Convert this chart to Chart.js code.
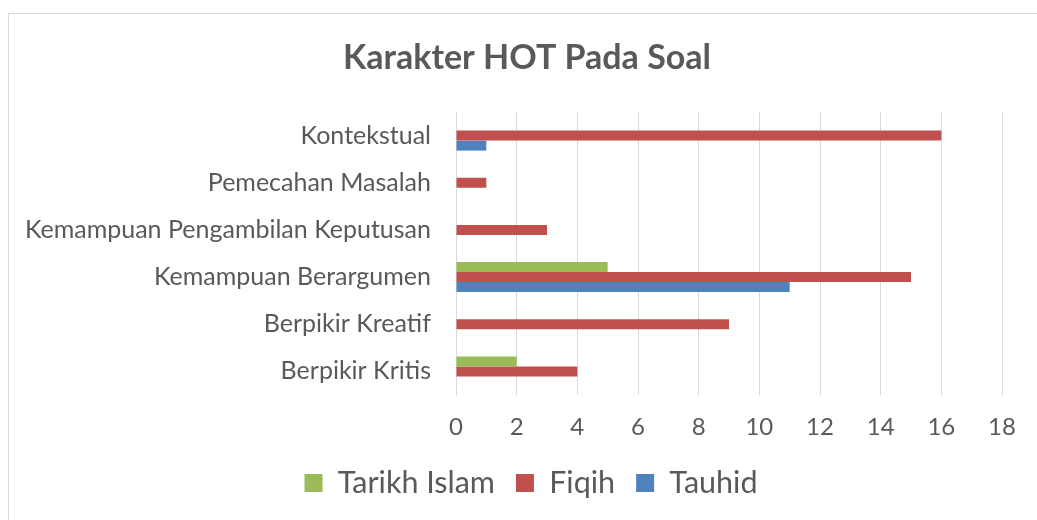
<!DOCTYPE html>
<html>
<head>
<meta charset="utf-8">
<script src="https://cdn.jsdelivr.net/npm/chart.js@4"></script>
<style>
  html, body { margin: 0; padding: 0; background: #fff; overflow: hidden; }
</style>
</head>
<body>
<canvas id="c" width="1037" height="520"></canvas>
<script>
const categories = ["Kontekstual", "Pemecahan Masalah", "Kemampuan Pengambilan Keputusan", "Kemampuan Berargumen", "Berpikir Kreatif", "Berpikir Kritis"];
const tarikhIslam = [0, 0, 0, 5, 0, 2];
const fiqih = [16, 1, 3, 15, 9, 4];
const tauhid = [1, 0, 0, 11, 0, 0];
const seriesNames = ["Tarikh Islam", "Fiqih", "Tauhid"];
const chartTitle = "Karakter HOT Pada Soal";

const FONT = "Lato";
const TXT = "#595959";

const borderPlugin = {
  id: 'outerBorder',
  beforeDraw(chart) {
    const ctx = chart.ctx;
    ctx.save();
    ctx.fillStyle = '#ffffff';
    ctx.fillRect(0, 0, chart.width, chart.height);
    ctx.strokeStyle = '#d9d9d9';
    ctx.lineWidth = 1;
    ctx.strokeRect(8.5, 13.5, 3000, 3000);
    ctx.restore();
  }
};

// centre title and legend over the (wider) Excel chart frame, not the canvas
const centerShiftPlugin = {
  id: 'centerShift',
  afterLayout(chart) {
    if (chart.titleBlock) chart.titleBlock.left = 52;
    if (chart.legend) chart.legend.left = 60;
  }
};

new Chart(document.getElementById('c'), {
  type: 'bar',
  data: {
    labels: categories,
    datasets: [
      { label: seriesNames[0], data: tarikhIslam, backgroundColor: '#9BBB59' },
      { label: seriesNames[1], data: fiqih, backgroundColor: '#C0504D' },
      { label: seriesNames[2], data: tauhid, backgroundColor: '#4F81BD' }
    ]
  },
  options: {
    indexAxis: 'y',
    responsive: false,
    animation: false,
    devicePixelRatio: 1,
    layout: { padding: { left: 0, right: 35, top: 0, bottom: 11.75 } },
    datasets: { bar: { categoryPercentage: 0.636, barPercentage: 1.0 } },
    scales: {
      x: {
        min: 0, max: 18,
        ticks: { stepSize: 2, color: TXT, font: { family: FONT, size: 24 }, padding: 18 },
        grid: { color: '#d9d9d9', drawTicks: false, lineWidth: 1 },
        border: { display: false },
        afterFit(scale) { scale.height = 51.75; }
      },
      y: {
        ticks: { color: TXT, font: { family: FONT, size: 25 }, padding: 25 },
        grid: { display: false, drawTicks: false },
        border: { display: true, color: '#d9d9d9', width: 1 },
        afterFit(scale) { scale.width = 456; }
      }
    },
    plugins: {
      title: {
        display: true,
        text: chartTitle,
        color: TXT,
        font: { family: FONT, size: 34, weight: 'bold', lineHeight: 1.2 },
        padding: { top: 37.6, bottom: 33.6 }
      },
      legend: {
        position: 'bottom',
        labels: {
          color: TXT,
          font: { family: FONT, size: 30.5 },
          boxWidth: 18, boxHeight: 18,
          padding: 21
        }
      },
      tooltip: { enabled: false }
    }
  },
  plugins: [borderPlugin, centerShiftPlugin]
});
</script>
</body>
</html>
